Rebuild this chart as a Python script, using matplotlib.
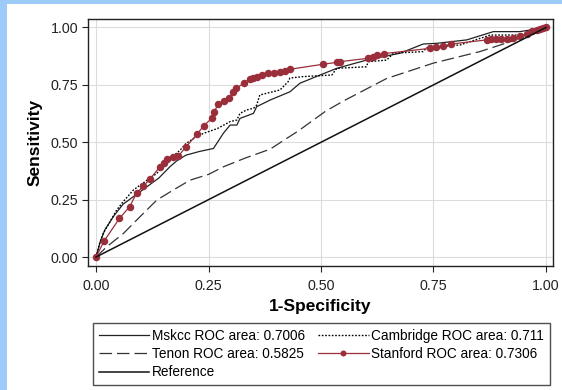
import matplotlib
matplotlib.use("Agg")
import matplotlib.pyplot as plt
from matplotlib.patches import Rectangle

plt.rcParams['font.family'] = ['Liberation Sans', 'DejaVu Sans']

# ---- data ----
mskcc_x = [0, 0.01, 0.02, 0.04, 0.06, 0.083, 0.113, 0.14, 0.164, 0.18, 0.2, 0.23, 0.261, 0.283,
           0.298, 0.313, 0.32, 0.335, 0.35, 0.357, 0.387, 0.431, 0.453, 0.498, 0.535, 0.601,
           0.676, 0.727, 0.757, 0.824, 0.883, 0.942, 1.0]
mskcc_y = [0, 0.07, 0.12, 0.18, 0.23, 0.263, 0.306, 0.345, 0.393, 0.42, 0.444, 0.46, 0.473, 0.539,
           0.575, 0.575, 0.604, 0.615, 0.626, 0.655, 0.684, 0.72, 0.757, 0.793, 0.822, 0.858,
           0.888, 0.928, 0.931, 0.946, 0.982, 0.982, 1.0]

camb_x = [0, 0.008, 0.016, 0.03, 0.046, 0.06, 0.083, 0.11, 0.135, 0.16, 0.187, 0.2, 0.22, 0.239,
          0.27, 0.298, 0.313, 0.32, 0.335, 0.35, 0.357, 0.364, 0.409, 0.427, 0.431, 0.46, 0.524,
          0.535, 0.601, 0.605, 0.646, 0.661, 0.727, 0.735, 0.809, 0.876, 0.942, 1.0]
camb_y = [0, 0.06, 0.103, 0.15, 0.205, 0.24, 0.292, 0.33, 0.364, 0.42, 0.466, 0.495, 0.52, 0.539,
          0.56, 0.59, 0.597, 0.626, 0.641, 0.648, 0.662, 0.706, 0.728, 0.764, 0.78, 0.786, 0.793,
          0.822, 0.829, 0.851, 0.858, 0.888, 0.895, 0.912, 0.924, 0.967, 0.967, 1.0]

tenon_x = [0, 0.024, 0.061, 0.1, 0.135, 0.17, 0.209, 0.25, 0.283, 0.33, 0.387, 0.45, 0.51, 0.55,
           0.646, 0.75, 0.853, 0.927, 1.0]
tenon_y = [0, 0.045, 0.103, 0.18, 0.248, 0.29, 0.335, 0.36, 0.393, 0.43, 0.47, 0.55, 0.635, 0.68,
           0.778, 0.845, 0.895, 0.942, 1.0]

stan_x = [0, 0.018, 0.052, 0.075, 0.09, 0.105, 0.12, 0.142, 0.15, 0.157, 0.17, 0.183, 0.2, 0.224,
          0.239, 0.257, 0.262, 0.272, 0.285, 0.296, 0.305, 0.312, 0.33, 0.342, 0.35, 0.357, 0.37,
          0.383, 0.395, 0.409, 0.42, 0.431, 0.505, 0.535, 0.542, 0.605, 0.615, 0.624, 0.639, 0.742,
          0.755, 0.772, 0.79, 0.868, 0.878, 0.89, 0.9, 0.913, 0.927, 0.942, 0.957, 0.97, 0.98,
          0.987, 0.993, 1.0]
stan_y = [0, 0.07, 0.168, 0.22, 0.278, 0.309, 0.34, 0.393, 0.41, 0.425, 0.435, 0.44, 0.48, 0.534,
          0.571, 0.604, 0.63, 0.668, 0.68, 0.691, 0.72, 0.735, 0.76, 0.776, 0.782, 0.786, 0.793,
          0.80, 0.80, 0.805, 0.81, 0.818, 0.84, 0.848, 0.851, 0.866, 0.873, 0.878, 0.886, 0.909,
          0.914, 0.919, 0.928, 0.946, 0.948, 0.949, 0.95, 0.952, 0.955, 0.962, 0.972, 0.985, 0.99,
          0.995, 0.998, 1.0]

ref_x = [0, 1]
ref_y = [0, 1]

labels = ["Mskcc ROC area: 0.7006", "Cambridge ROC area: 0.711", "Tenon ROC area: 0.5825",
          "Stanford ROC area: 0.7306", "Reference"]
ticks = [0, 0.25, 0.5, 0.75, 1.0]
tick_labels = ["0.00", "0.25", "0.50", "0.75", "1.00"]

# ---- figure ----
W, H = 562, 390
fig = plt.figure(figsize=(W / 100, H / 100), dpi=100, facecolor='#9DCBF8')
fig.patches.append(Rectangle((7 / W, 0), 1 - 7 / W, 1 - 4 / H, transform=fig.transFigure,
                             facecolor='white', edgecolor='none', zorder=-10))

ax = fig.add_axes([88 / W, 1 - 266 / H, (553 - 88) / W, (266 - 19) / H])
ax.set_facecolor('white')

stan_color = '#9A2E3B'
l_msk, = ax.plot(mskcc_x, mskcc_y, color='#222222', lw=0.9, label=labels[0])
l_cam, = ax.plot(camb_x, camb_y, color='black', lw=1.0, linestyle=(0, (1.2, 1.2)), label=labels[1])
l_ten, = ax.plot(tenon_x, tenon_y, color='#333333', lw=0.9, linestyle=(0, (10, 4)), label=labels[2])
l_stan, = ax.plot(stan_x, stan_y, color=stan_color, lw=0.9, marker='o', markersize=5.4,
                  markeredgewidth=0, label=labels[3])
l_ref, = ax.plot(ref_x, ref_y, color='#111111', lw=1.1, label=labels[4])

ax.set_xlim(-0.0178, 1.0156)
ax.set_ylim(-0.039, 1.037)
ax.set_xticks(ticks)
ax.set_xticklabels(tick_labels)
ax.set_yticks(ticks)
ax.set_yticklabels(tick_labels)
ax.grid(True, color='#DCDCDC', lw=0.8)
ax.set_axisbelow(True)
ax.tick_params(direction='out', length=4.5, width=0.8, labelsize=10.3, colors='#222222')
ax.tick_params(axis='x', pad=4.5)
ax.tick_params(axis='y', pad=2.5)
for s in ax.spines.values():
    s.set_linewidth(1.0)
    s.set_color('#222222')

ax.set_xlabel("1-Specificity", fontsize=12.5, fontweight='bold', labelpad=5)
ax.set_ylabel("Sensitivity", fontsize=12.5, fontweight='bold', labelpad=6)

handles = [l_msk, l_ten, l_ref, l_cam, l_stan]
hlabels = [labels[0], labels[2], labels[4], labels[1], labels[3]]
leg = fig.legend(handles, hlabels, loc='upper left', bbox_to_anchor=(93 / W, 1 - 323 / H),
                 ncol=2, fontsize=9.8, frameon=True, fancybox=False,
                 edgecolor='#222222', handlelength=3.7, handletextpad=0.15,
                 labelspacing=0.3, borderpad=0.45, columnspacing=1.0, borderaxespad=0,
                 markerscale=0.8)
leg.get_frame().set_linewidth(1.0)

fig.savefig("out.png", dpi=100, facecolor=fig.get_facecolor())
